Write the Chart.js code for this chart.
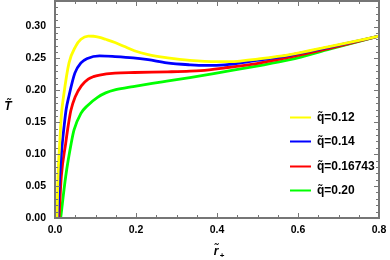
<!DOCTYPE html>
<html><head><meta charset="utf-8">
<script src="https://cdn.jsdelivr.net/npm/chart.js@4.4.1/dist/chart.umd.min.js"></script>
<style>html,body{margin:0;padding:0;background:#fff}</style>
</head><body>
<canvas id="c" width="390" height="260"></canvas>
<script>
/* T(r+) curves for four charge values, Mathematica-style framed plot */
var FONT = '"Liberation Sans", Arial, sans-serif';
var FRAME = '#767676';

var X_TICKS = [0, 0.2, 0.4, 0.6, 0.8];
var Y_TICKS = [0, 0.05, 0.10, 0.15, 0.20, 0.25, 0.30];
var LABELS = ['q\u0303=0.12', 'q\u0303=0.14', 'q\u0303=0.16743', 'q\u0303=0.20'];
var COLORS = ['#ffff00', '#0000ff', '#ff0000', '#00ff00'];

// values
var r012 = [0.005, 0.0074, 0.0116, 0.016, 0.021, 0.0346, 0.051, 0.064, 0.082, 0.095, 0.110, 0.125, 0.148, 0.170, 0.196, 0.230, 0.278, 0.333, 0.400, 0.450, 0.500, 0.580, 0.680, 0.800];
var t012 = [0.000, 0.065, 0.117, 0.163, 0.190, 0.243, 0.269, 0.280, 0.285, 0.2848, 0.283, 0.280, 0.275, 0.269, 0.262, 0.256, 0.251, 0.247, 0.245, 0.2455, 0.249, 0.256, 0.269, 0.285];

var r014 = [0.0072, 0.0116, 0.018, 0.0215, 0.0275, 0.034, 0.049, 0.064, 0.080, 0.110, 0.148, 0.193, 0.230, 0.276, 0.333, 0.370, 0.420, 0.498, 0.580, 0.680, 0.800];
var t014 = [0.000, 0.065, 0.117, 0.138, 0.170, 0.190, 0.227, 0.243, 0.250, 0.254, 0.253, 0.251, 0.248, 0.243, 0.240, 0.239, 0.240, 0.247, 0.255, 0.268, 0.285];

var r0167 = [0.0099, 0.0156, 0.0264, 0.031, 0.039, 0.050, 0.065, 0.082, 0.095, 0.110, 0.148, 0.196, 0.278, 0.333, 0.360, 0.416, 0.498, 0.580, 0.680, 0.800];
var t0167 = [0.000, 0.065, 0.117, 0.138, 0.168, 0.190, 0.207, 0.2175, 0.2215, 0.224, 0.227, 0.228, 0.229, 0.230, 0.231, 0.235, 0.242, 0.252, 0.266, 0.285];

var r020 = [0.014, 0.0264, 0.040, 0.047, 0.064, 0.080, 0.105, 0.125, 0.150, 0.193, 0.240, 0.276, 0.333, 0.416, 0.498, 0.580, 0.680, 0.800];
var t020 = [0.000, 0.065, 0.117, 0.138, 0.164, 0.176, 0.189, 0.196, 0.201, 0.206, 0.211, 0.2145, 0.220, 0.229, 0.238, 0.248, 0.265, 0.285];

var SERIES = [[r012, t012], [r014, t014], [r0167, t0167], [r020, t020]];

function pts(rs, ts) {
  return rs.map(function (r, i) { return { x: r, y: ts[i] }; });
}

/* frame with inward major/minor ticks on all four sides */
var frameTicks = {
  id: 'frameTicks',
  afterDraw: function (chart) {
    var ctx = chart.ctx, a = chart.chartArea;
    var xs = chart.scales.x, ys = chart.scales.y;
    ctx.save();
    ctx.strokeStyle = FRAME;
    ctx.lineWidth = 1;
    var i, v, p, len;
    for (i = 0; i <= 16; i++) {
      v = i * 0.05;
      p = Math.round(xs.getPixelForValue(v)) + 0.5;
      len = (i % 4 === 0) ? 5 : 3;
      ctx.beginPath();
      ctx.moveTo(p, a.bottom); ctx.lineTo(p, a.bottom - len);
      ctx.moveTo(p, a.top); ctx.lineTo(p, a.top + len);
      ctx.stroke();
    }
    for (i = 0; i <= 34; i++) {
      v = i * 0.01;
      p = Math.round(ys.getPixelForValue(v)) + 0.5;
      len = (i % 5 === 0) ? 5 : 3;
      ctx.beginPath();
      ctx.moveTo(a.left, p); ctx.lineTo(a.left + len, p);
      ctx.moveTo(a.right, p); ctx.lineTo(a.right - len, p);
      ctx.stroke();
    }
    ctx.lineWidth = 2;
    ctx.strokeRect(a.left, a.top, a.right - a.left, a.bottom - a.top);
    ctx.restore();
  }
};

/* axis titles and legend in the lower right */
var decor = {
  id: 'decor',
  afterDraw: function (chart) {
    var ctx = chart.ctx;
    ctx.save();
    ctx.fillStyle = '#000';
    ctx.textAlign = 'center';
    ctx.textBaseline = 'middle';
    ctx.font = 'italic bold 12px ' + FONT;
    ctx.fillText('T\u0303', 8, 107);
    ctx.fillText('r\u0303', 216, 252);
    ctx.font = 'bold 8px ' + FONT;
    ctx.fillText('+', 222, 256);

    ctx.textAlign = 'left';
    chart.data.datasets.forEach(function (ds, i) {
      var y = 117 + i * 24.4;
      ctx.strokeStyle = ds.borderColor;
      ctx.lineWidth = 2;
      ctx.beginPath();
      ctx.moveTo(290, Math.round(y) + 0.5); ctx.lineTo(311, Math.round(y) + 0.5);
      ctx.stroke();
      ctx.font = 'bold 12px ' + FONT;
      ctx.fillText(ds.label, 317, y + 0.5);
    });
    ctx.restore();
  }
};

new Chart(document.getElementById('c').getContext('2d'), {
  type: 'line',
  data: {
    datasets: SERIES.map(function (s, i) {
      return {
        label: LABELS[i],
        data: pts(s[0], s[1]),
        borderColor: COLORS[i],
        backgroundColor: COLORS[i],
        borderWidth: 2.8,
        pointRadius: 0,
        fill: false,
        cubicInterpolationMode: 'monotone'
      };
    })
  },
  options: {
    responsive: false,
    animation: false,
    devicePixelRatio: 1,
    layout: { padding: { top: 1, right: 11, left: 0, bottom: 0 } },
    plugins: { legend: { display: false }, tooltip: { enabled: false } },
    scales: {
      x: {
        type: 'linear', min: 0, max: 0.8,
        grid: { display: false, drawTicks: false },
        border: { display: false },
        afterFit: function (s) { s.height = 42; s.paddingLeft = 0; s.paddingRight = 0; },
        afterBuildTicks: function (s) { s.ticks = X_TICKS.map(function (v) { return { value: v }; }); },
        ticks: {
          color: '#000', padding: 6, maxRotation: 0,
          font: { family: FONT, size: 10.5, weight: 'bold' },
          callback: function (v) { return v.toFixed(1); }
        }
      },
      y: {
        type: 'linear', min: 0, max: 0.34,
        grid: { display: false, drawTicks: false },
        border: { display: false },
        afterFit: function (s) { s.width = 55; s.paddingTop = 0; s.paddingBottom = 0; },
        afterBuildTicks: function (s) { s.ticks = Y_TICKS.map(function (v) { return { value: v }; }); },
        ticks: {
          color: '#000', padding: 9,
          font: { family: FONT, size: 10.5, weight: 'bold' },
          callback: function (v) { return v.toFixed(2); }
        }
      }
    }
  },
  plugins: [frameTicks, decor]
});
</script>
</body></html>
